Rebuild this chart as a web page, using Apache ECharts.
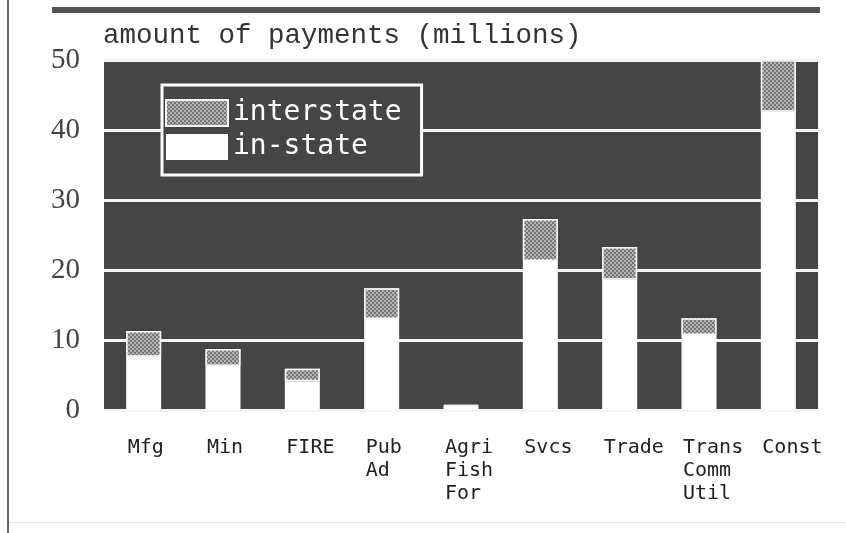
<!DOCTYPE html>
<html>
<head>
<meta charset="utf-8">
<style>
  html, body { margin: 0; padding: 0; background: #fff; }
  #chart { width: 846px; height: 533px; }
</style>
<script src="https://cdn.jsdelivr.net/npm/echarts@6/dist/echarts.min.js"></script>
</head>
<body>
<div id="chart"></div>
<script>
// sectors (multi-line names use \n)
const sectors = ['Mfg', 'Min', 'FIRE', 'Pub\nAd', 'Agri\nFish\nFor', 'Svcs', 'Trade', 'Trans\nComm\nUtil', 'Const'];
// payments in millions
const inState = [7.6, 6.3, 4.1, 13.0, 0.6, 21.3, 18.6, 10.7, 42.6];
const interstate = [3.7, 2.4, 1.8, 4.4, 0.1, 6.0, 4.7, 2.4, 7.4];
const yTicks = [0, 10, 20, 30, 40, 50];

const chart = echarts.init(document.getElementById('chart'));

const hatch = {
  symbol: 'rect',
  symbolSize: 1,
  color: 'rgba(70,70,70,0.55)',
  dashArrayX: [[2, 2], [0, 2, 2, 0]],
  dashArrayY: [2, 0],
  rotation: 0
};

const option = {
  backgroundColor: '#fff',
  animation: false,
  title: {
    text: 'amount of payments (millions)',
    left: 98,
    top: 17,
    textStyle: {
      fontFamily: 'Liberation Mono',
      fontSize: 27.5,
      fontWeight: 'normal',
      color: '#333'
    }
  },
  legend: {
    data: ['interstate', 'in-state'],
    orient: 'vertical',
    icon: 'rect',
    left: 162,
    top: 85,
    itemWidth: 62,
    itemHeight: 26,
    itemGap: 6,
    padding: [14, 20, 14, 3],
    borderColor: '#fff',
    borderWidth: 3,
    backgroundColor: '#454545',
    textStyle: {
      fontFamily: 'DejaVu Sans Mono',
      fontSize: 28,
      color: '#fff'
    }
  },
  grid: {
    left: 104,
    top: 60,
    width: 714,
    height: 350,
    show: true,
    backgroundColor: '#454545',
    borderWidth: 0
  },
  xAxis: {
    type: 'category',
    data: sectors,
    axisLine: { show: false },
    axisTick: { show: false },
    axisLabel: {
      interval: 0,
      margin: 26,
      align: 'center',
      formatter: v => v.split('\n').map(s => '{a|' + s + '}').join('\n'),
      rich: {
        a: {
          width: 32,
          align: 'left',
          fontFamily: 'DejaVu Sans Mono',
          fontSize: 20,
          lineHeight: 23,
          color: '#222'
        }
      }
    }
  },
  yAxis: {
    type: 'value',
    min: yTicks[0],
    max: yTicks[yTicks.length - 1],
    interval: 10,
    axisLine: { show: false },
    axisTick: { show: false },
    axisLabel: {
      margin: 24,
      fontFamily: 'Liberation Serif',
      fontSize: 29,
      color: '#444'
    },
    splitLine: { lineStyle: { color: '#f4f4f4', width: 3 } }
  },
  series: [
    {
      name: 'in-state',
      type: 'bar',
      stack: 'pay',
      barWidth: 35,
      data: inState,
      itemStyle: { color: '#ffffff' }
    },
    {
      name: 'interstate',
      type: 'bar',
      stack: 'pay',
      barWidth: 35,
      data: interstate,
      itemStyle: {
        color: '#b4b4b4',
        borderColor: '#f2f2f2',
        borderWidth: 1.5,
        decal: hatch
      }
    }
  ],
  graphic: [
    { type: 'rect', left: 52, top: 7, shape: { width: 768, height: 6 }, style: { fill: '#555' } },
    { type: 'rect', left: 7, top: 0, shape: { width: 2, height: 533 }, style: { fill: '#666' } },
    { type: 'rect', left: 9, top: 522, shape: { width: 837, height: 1 }, style: { fill: '#e4e4e4' } }
  ]
};

chart.setOption(option);
</script>
</body>
</html>
